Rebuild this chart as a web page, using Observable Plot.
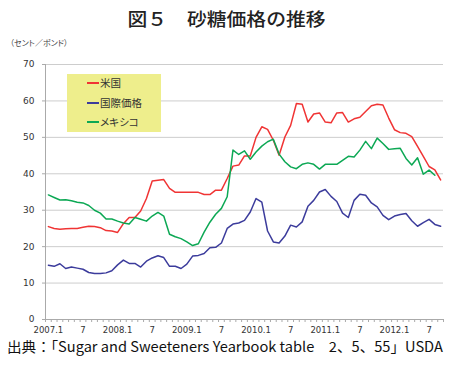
<!DOCTYPE html>
<html><head><meta charset="utf-8">
<script src="https://cdn.jsdelivr.net/npm/d3@7"></script>
<script src="https://cdn.jsdelivr.net/npm/@observablehq/plot@0.6"></script>
<style>
body{margin:0;background:#fff;}
#wrap{position:relative;width:453px;height:368px;overflow:hidden;font-family:"Noto Sans CJK JP",sans-serif;color:#222;background:#fff;}
#title{position:absolute;left:0;top:9px;width:453px;text-align:center;font-size:18px;line-height:18px;font-weight:500;white-space:pre;transform:scaleX(1.1);transform-origin:226px 0;color:#222;}
#unit{position:absolute;left:10px;top:39px;font-size:8px;line-height:8px;white-space:pre;color:#444;font-feature-settings:"palt";z-index:2;}
#chart{position:absolute;left:0;top:30px;z-index:1;}
#legend{position:absolute;left:67px;top:74px;width:94px;height:58px;background:#EEEE8C;z-index:3;}
.row{position:absolute;left:0;height:12px;font-size:10.5px;line-height:12px;color:#333;font-feature-settings:"palt";white-space:pre;}
.sw{position:absolute;left:20px;top:5px;width:12px;height:0;border-top:2px solid;}
.lt{position:absolute;left:33px;top:0;}
#caption{position:absolute;left:7px;top:339px;font-size:14px;line-height:14px;white-space:pre;color:#111;transform:scaleX(1.043);transform-origin:0 0;z-index:2;}
</style></head>
<body><div id="wrap">
<div id="title">図５　砂糖価格の推移</div>
<div id="unit">（セント／ポンド）</div>
<div id="chart"></div>
<div id="legend"></div>
<div id="caption">出典：「Sugar and Sweeteners Yearbook table　2、5、55」USDA</div>
</div>
<script>
// 米国 (US), monthly 2007.1 - 2012.9
const usPrice = [25.5,25.0,24.8,24.9,25.0,25.0,25.3,25.6,25.5,25.2,24.4,24.3,
  23.9,26.3,28.0,28.0,29.8,33.2,38.0,38.2,38.4,36.0,34.9,34.9,
  34.9,34.9,34.9,34.3,34.3,35.5,35.5,38.7,42.1,42.4,44.9,44.9,
  50.0,52.9,52.2,49.2,45.1,50.1,53.3,59.3,59.1,54.2,56.4,56.7,
  54.2,54.0,56.7,56.8,54.2,55.1,55.5,57.1,58.7,59.1,58.9,55.3,
  52.1,51.3,51.1,50.2,47.5,44.8,42.0,41.1,38.3];
// 国際価格 (world), monthly 2007.1 - 2012.9
const worldPrice = [14.9,14.6,15.3,14.0,14.4,14.1,13.8,12.9,12.6,12.6,12.8,13.4,
  15.0,16.3,15.4,15.4,14.4,16.0,16.9,17.5,17.0,14.6,14.6,14.0,
  15.2,17.4,17.6,18.1,19.7,19.8,21.0,25.0,26.2,26.5,27.2,29.5,
  33.2,32.2,24.3,21.3,21.0,22.9,25.9,25.4,26.8,31.1,32.7,35.0,
  35.7,33.8,32.4,29.2,28.0,32.7,34.4,34.1,32.0,30.9,28.6,27.4,
  28.4,28.8,29.1,27.1,25.6,26.6,27.5,26.1,25.6];
// メキシコ (Mexico), monthly 2007.1 - 2012.8
const mexicoPrice = [34.2,33.5,32.8,32.9,32.6,32.2,32.0,31.3,30.0,29.2,27.6,27.6,
  27.0,26.5,26.2,28.0,27.5,27.0,28.4,29.4,28.4,23.4,22.7,22.2,
  21.3,20.3,20.8,24.0,26.7,28.9,30.5,33.7,46.5,45.3,46.3,44.0,
  46.0,47.6,48.8,49.5,45.4,43.3,41.9,41.4,42.6,43.0,42.6,41.3,
  42.6,42.6,42.6,43.7,44.8,44.6,46.5,48.9,46.9,49.8,48.3,46.7,
  46.9,47.0,44.2,42.4,44.4,39.9,41.0,39.6];

const seriesNames = ["米国", "国際価格", "メキシコ"];
const seriesColors = ["#F03434", "#3C3C9C", "#0CA854"];
const yTicks = [0, 10, 20, 30, 40, 50, 60, 70];
const xTickLabels = ["2007.1","7","2008.1","7","2009.1","7","2010.1","7","2011.1","7","2012.1","7"];
const monthsPerLabel = 6;

const seriesData = [usPrice, worldPrice, mexicoPrice];
const rows = [];
seriesData.forEach((arr, s) => arr.forEach((v, i) => rows.push({series: seriesNames[s], m: i, v})));

const n = usPrice.length;
const xDomain = [-0.5, n - 0.5];
const boundaries = d3.range(xDomain[0], xDomain[1] + 0.01, 1);
const labelTicks = xTickLabels.map((_, i) => i * monthsPerLabel);

const chart = Plot.plot({
  width: 453, height: 310,
  marginTop: 34, marginBottom: 21, marginLeft: 45, marginRight: 10,
  x: {type: "linear", domain: xDomain},
  y: {domain: [yTicks[0], yTicks[yTicks.length - 1]]},
  color: {domain: seriesNames, range: seriesColors},
  style: {fontFamily: "DejaVu Sans", fontSize: "9px", color: "#333", background: "transparent", overflow: "visible"},
  marks: [
    Plot.ruleY(yTicks.filter(d => d > yTicks[0]), {stroke: "#cdcdcd", strokeWidth: 1}),
    Plot.axisY({ticks: yTicks, tickSize: 3, tickPadding: 8, label: null, stroke: "#aaa", fill: "#333", fontSize: 9}),
    Plot.axisX({ticks: boundaries, tickSize: 3, tickFormat: () => "", label: null, stroke: "#aaa"}),
    Plot.axisX({ticks: labelTicks, tickSize: 0, tickPadding: 7, tickFormat: d => xTickLabels[Math.round(d / monthsPerLabel)], label: null, fill: "#333", fontSize: 8.5}),
    Plot.ruleY([yTicks[0]], {stroke: "#aaa"}),
    Plot.ruleX([xDomain[0]], {stroke: "#aaa"}),
    Plot.line(rows, {x: "m", y: "v", z: "series", stroke: "series", strokeWidth: 1.5})
  ]
});
document.getElementById("chart").appendChild(chart);

const legend = document.getElementById("legend");
const rowTops = [3, 22.5, 41.5];
seriesNames.forEach((name, i) => {
  const r = document.createElement("div");
  r.className = "row";
  r.style.top = rowTops[i] + "px";
  r.innerHTML = `<span class="sw" style="border-color:${seriesColors[i]}"></span><span class="lt">${name}</span>`;
  legend.appendChild(r);
});
</script>
</body></html>
